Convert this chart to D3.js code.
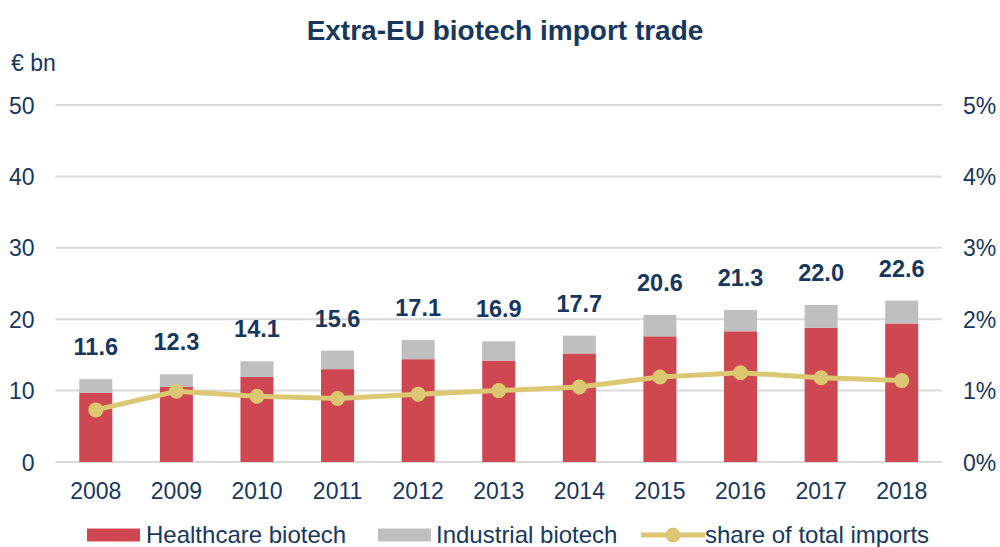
<!DOCTYPE html>
<html>
<head>
<meta charset="utf-8">
<script src="https://cdn.jsdelivr.net/npm/d3@7"></script>
<style>
  body { margin: 0; background: #fff; }
  svg { display: block; font-family: "Liberation Sans", Arial, sans-serif; }
</style>
</head>
<body>
<div id="chart"></div>
<script>
// chart data
const years = ['2008', '2009', '2010', '2011', '2012', '2013', '2014', '2015', '2016', '2017', '2018'];
const healthcare = [9.7, 10.5, 11.9, 13.0, 14.4, 14.2, 15.2, 17.6, 18.3, 18.8, 19.4];
const industrial = [1.9, 1.8, 2.2, 2.6, 2.7, 2.7, 2.5, 3.0, 3.0, 3.2, 3.2];
const totals = [11.6, 12.3, 14.1, 15.6, 17.1, 16.9, 17.7, 20.6, 21.3, 22.0, 22.6];
const shareOfImports = [0.73, 0.99, 0.92, 0.89, 0.95, 1.0, 1.05, 1.19, 1.25, 1.18, 1.14];
const leftTicks = [0, 10, 20, 30, 40, 50];
const rightTicks = [0, 1, 2, 3, 4, 5];

const width = 1000, height = 547;
const margin = { top: 105, right: 58, bottom: 85, left: 55.5 };
const navy = '#17375e';
const colors = { healthcare: '#cf4851', industrial: '#bfbfbf', share: '#dcc872' };

const svg = d3.select('#chart').append('svg')
    .attr('width', width)
    .attr('height', height);

const x = d3.scaleBand()
    .domain(years)
    .range([margin.left, width - margin.right])
    .paddingInner(0.59)
    .paddingOuter(0.295);

const y = d3.scaleLinear().domain([0, 50]).range([height - margin.bottom, margin.top]);
const y2 = d3.scaleLinear().domain([0, 5]).range([height - margin.bottom, margin.top]);

// Gridlines
svg.append('g')
    .selectAll('line')
    .data(leftTicks)
    .join('line')
    .attr('x1', margin.left)
    .attr('x2', width - margin.right)
    .attr('y1', d => y(d))
    .attr('y2', d => y(d))
    .attr('stroke', '#d9d9d9')
    .attr('stroke-width', 2);

// Left axis
const leftAxis = svg.append('g')
    .attr('transform', `translate(${margin.left - 21},0)`)
    .call(d3.axisLeft(y).tickValues(leftTicks).tickSize(0).tickPadding(0));
leftAxis.select('.domain').remove();
leftAxis.selectAll('text')
    .attr('fill', navy)
    .style('font-size', '23px')
    .attr('dy', '0.35em');

// Right axis
const rightAxis = svg.append('g')
    .attr('transform', `translate(${width - margin.right + 21},0)`)
    .call(d3.axisRight(y2).tickValues(rightTicks).tickSize(0).tickPadding(0).tickFormat(d => d + '%'));
rightAxis.select('.domain').remove();
rightAxis.selectAll('text')
    .attr('fill', navy)
    .style('font-size', '23px')
    .attr('dy', '0.35em');

// Bottom axis
const bottomAxis = svg.append('g')
    .attr('transform', `translate(0,${height - margin.bottom})`)
    .call(d3.axisBottom(x).tickSize(0).tickPadding(21));
bottomAxis.select('.domain').remove();
bottomAxis.selectAll('text')
    .attr('fill', navy)
    .style('font-size', '23px');

// Stacked bars
const stackData = years.map((yr, i) => ({ year: yr, healthcare: healthcare[i], industrial: industrial[i] }));
const series = d3.stack().keys(['healthcare', 'industrial'])(stackData);

svg.append('g')
    .selectAll('g')
    .data(series)
    .join('g')
    .attr('fill', d => colors[d.key])
    .selectAll('rect')
    .data(d => d)
    .join('rect')
    .attr('x', d => x(d.data.year))
    .attr('y', d => y(d[1]))
    .attr('width', x.bandwidth())
    .attr('height', d => y(d[0]) - y(d[1]));

// Total labels
svg.append('g')
    .selectAll('text')
    .data(totals)
    .join('text')
    .attr('x', (d, i) => x(years[i]) + x.bandwidth() / 2)
    .attr('y', d => y(d) - 24)
    .attr('text-anchor', 'middle')
    .attr('fill', navy)
    .attr('font-weight', 'bold')
    .style('font-size', '23.5px')
    .text(d => d.toFixed(1));

// Share line
const line = d3.line()
    .x((d, i) => x(years[i]) + x.bandwidth() / 2)
    .y(d => y2(d));

svg.append('path')
    .datum(shareOfImports)
    .attr('d', line)
    .attr('fill', 'none')
    .attr('stroke', colors.share)
    .attr('stroke-width', 5);

svg.append('g')
    .selectAll('circle')
    .data(shareOfImports)
    .join('circle')
    .attr('cx', (d, i) => x(years[i]) + x.bandwidth() / 2)
    .attr('cy', d => y2(d))
    .attr('r', 7.5)
    .attr('fill', colors.share);

// Title and unit
svg.append('text')
    .attr('x', 505)
    .attr('y', 40)
    .attr('text-anchor', 'middle')
    .attr('fill', navy)
    .attr('font-weight', 'bold')
    .style('font-size', '28px')
    .text('Extra-EU biotech import trade');

svg.append('text')
    .attr('x', 11)
    .attr('y', 71)
    .attr('fill', navy)
    .style('font-size', '23px')
    .text('€ bn');

// Legend
const legend = svg.append('g').attr('transform', 'translate(0,535)');

legend.append('rect').attr('x', 87).attr('y', -6.5).attr('width', 53).attr('height', 13).attr('fill', colors.healthcare);
legend.append('text').attr('x', 146).attr('y', 0).attr('dy', '0.35em').attr('fill', navy)
    .style('font-size', '24px').text('Healthcare biotech');

legend.append('rect').attr('x', 378).attr('y', -6.5).attr('width', 53).attr('height', 13).attr('fill', colors.industrial);
legend.append('text').attr('x', 436).attr('y', 0).attr('dy', '0.35em').attr('fill', navy)
    .style('font-size', '24px').text('Industrial biotech');

legend.append('line').attr('x1', 641).attr('x2', 705).attr('y1', 0).attr('y2', 0)
    .attr('stroke', colors.share).attr('stroke-width', 5);
legend.append('circle').attr('cx', 673).attr('cy', 0).attr('r', 7.5).attr('fill', colors.share);
legend.append('text').attr('x', 705).attr('y', 0).attr('dy', '0.35em').attr('fill', navy)
    .style('font-size', '24px').text('share of total imports');
</script>
</body>
</html>
